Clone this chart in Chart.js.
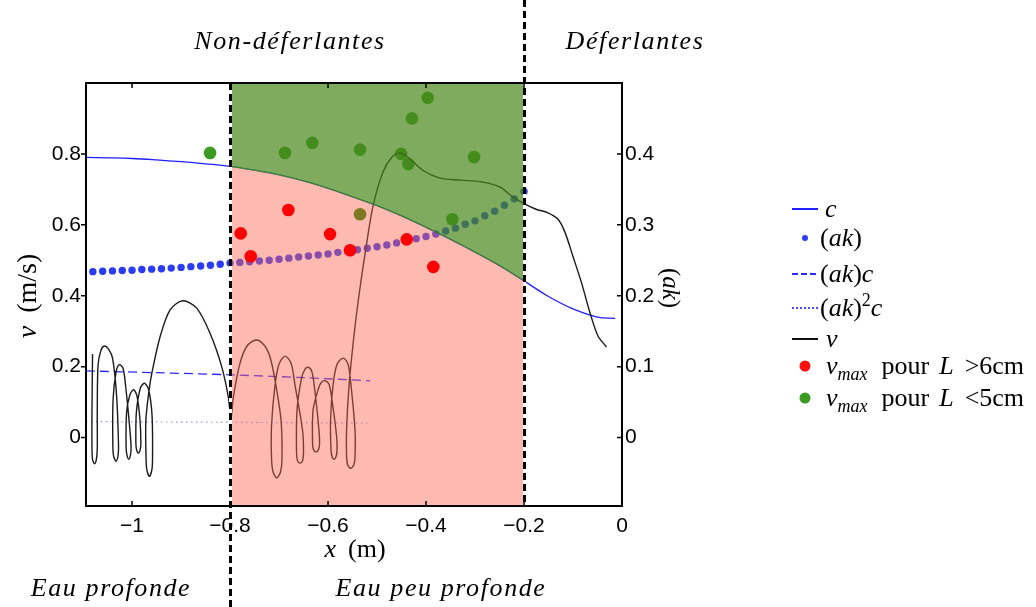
<!DOCTYPE html>
<html>
<head>
<meta charset="utf-8">
<script src="https://cdn.jsdelivr.net/npm/chart.js@4.4.1/dist/chart.umd.min.js"></script>
<style>
  body { margin: 0; background: #fff; }
  #wrap { width: 1036px; height: 607px; }
</style>
</head>
<body>
<div id="wrap"><canvas id="waveChart" width="1036" height="607"></canvas></div>
<script>
// axis ticks
const xTicks = [-1, -0.8, -0.6, -0.4, -0.2, 0];
const vTicks = [0, 0.2, 0.4, 0.6, 0.8];
const akTicks = [0, 0.1, 0.2, 0.3, 0.4];

// zone limits (non-breaking / breaking, deep / shallow water)
const zoneX = [-0.8, -0.2];

// phase speed c (m/s)
const cX = [-1.094, -1.05, -1.0, -0.95, -0.9, -0.85, -0.8, -0.75, -0.7, -0.65, -0.6, -0.55, -0.5, -0.45, -0.4, -0.35, -0.3, -0.25, -0.2, -0.15, -0.1, -0.05, -0.014];
const cV = [0.790, 0.789, 0.787, 0.783, 0.778, 0.772, 0.765, 0.754, 0.741, 0.724, 0.703, 0.679, 0.654, 0.625, 0.593, 0.559, 0.523, 0.485, 0.442, 0.398, 0.363, 0.340, 0.336];

// steepness (ak), right axis
const akX = [-1.08, -1.06, -1.04, -1.02, -1.00, -0.98, -0.96, -0.94, -0.92, -0.90, -0.88, -0.86, -0.84, -0.82, -0.80, -0.78, -0.76, -0.74, -0.72, -0.70, -0.68, -0.66, -0.64, -0.62, -0.60, -0.58, -0.56, -0.54, -0.52, -0.50, -0.48, -0.46, -0.44, -0.42, -0.40, -0.38, -0.36, -0.34, -0.32, -0.30, -0.28, -0.26, -0.24, -0.22, -0.20];
const akV = [0.234, 0.2345, 0.235, 0.2355, 0.236, 0.237, 0.2375, 0.238, 0.239, 0.240, 0.241, 0.242, 0.243, 0.2445, 0.246, 0.247, 0.248, 0.249, 0.250, 0.2515, 0.253, 0.2547, 0.256, 0.2575, 0.259, 0.2612, 0.263, 0.265, 0.267, 0.269, 0.2715, 0.2745, 0.277, 0.2805, 0.2835, 0.287, 0.2913, 0.2953, 0.3008, 0.3056, 0.3127, 0.3193, 0.3277, 0.3366, 0.347];

// (ak)c and (ak)^2 c
const akcX = [-1.094, -0.95, -0.8, -0.65, -0.514];
const akcV = [0.188, 0.183, 0.177, 0.169, 0.160];
const ak2cX = [-1.094, -0.514];
const ak2cV = [0.045, 0.041];

// particle velocity v (trajectory with loops)
const vX = [-1.0806, -1.0818,
  -1.0818, -1.0806, -1.0765, -1.0729, -1.0710,
  -1.0710, -1.0694, -1.0633, -1.0565, -1.0480, -1.0398, -1.0316,
  -1.0276, -1.0286, -1.0327, -1.0378, -1.0392,
  -1.0388, -1.0327, -1.0259, -1.0184, -1.0133, -1.0061,
  -1.0020, -1.0031, -1.0067, -1.0106, -1.0122,
  -1.0112, -1.0041, -0.9965, -0.9898, -0.9837,
  -0.9820, -0.9837, -0.9871, -0.9906, -0.9922,
  -0.9912, -0.9831, -0.9749, -0.9663, -0.9592,
  -0.9582, -0.9596, -0.9647, -0.9698, -0.9714,
  -0.9718, -0.9653, -0.9592, -0.9429, -0.9224, -0.8965, -0.8680, -0.8408, -0.8169, -0.8035,
  -0.7980, -0.7933, -0.7796, -0.7653, -0.7469, -0.7306, -0.7184, -0.7082, -0.6959,
  -0.6939, -0.6969, -0.7047, -0.7122, -0.7153,
  -0.7153, -0.7082, -0.7000, -0.6878, -0.6755, -0.6673, -0.6520,
  -0.6500, -0.6520, -0.6571, -0.6622, -0.6643,
  -0.6633, -0.6541, -0.6469, -0.6402, -0.6327, -0.6265, -0.6184,
  -0.6173, -0.6194, -0.6245, -0.6296, -0.6316,
  -0.6306, -0.6194, -0.6133, -0.6061, -0.5980, -0.5918, -0.5827,
  -0.5816, -0.5837, -0.5878, -0.5918, -0.5939,
  -0.5949, -0.5898, -0.5816, -0.5688, -0.5592, -0.5531, -0.5449,
  -0.5449, -0.5473, -0.5537, -0.5600, -0.5622,
  -0.5622, -0.5571, -0.5469, -0.5367, -0.5224, -0.5082, -0.4878, -0.4694, -0.4531, -0.4327,
  -0.4061, -0.3714, -0.3306, -0.2837, -0.2490, -0.2224, -0.1980, -0.1755, -0.1510, -0.1306,
  -0.1163, -0.1000, -0.0827, -0.0653, -0.0490, -0.0316];
const vV = [0.2355, 0.0766,
  -0.0312, -0.0624, -0.0738, -0.0624, -0.0312,
  0.0766, 0.2043, 0.2468, 0.2582, 0.2496, 0.2241, 0.1191,
  -0.0227, -0.0511, -0.0667, -0.0511, -0.0227,
  0.1050, 0.1844, 0.2057, 0.1957, 0.1475, 0.0482,
  -0.0255, -0.0482, -0.0610, -0.0482, -0.0255,
  0.0709, 0.1220, 0.1348, 0.1163, 0.0482,
  -0.0170, -0.0355, -0.0440, -0.0355, -0.0170,
  0.0709, 0.1390, 0.1532, 0.1362, 0.0624,
  -0.0596, -0.0908, -0.1092, -0.0908, -0.0596,
  0.0482, 0.1333, 0.1844, 0.2837, 0.3603, 0.3858, 0.3651, 0.2942, 0.1994, 0.1143,
  0.0539, 0.1143, 0.2099, 0.2582, 0.2752, 0.2610, 0.2270, 0.1617, 0.0482,
  -0.0596, -0.0965, -0.1135, -0.0965, -0.0596,
  0.0340, 0.1475, 0.2071, 0.2298, 0.2099, 0.1475, 0.0199,
  -0.0426, -0.0652, -0.0723, -0.0652, -0.0426,
  0.0766, 0.1674, 0.1929, 0.1986, 0.1844, 0.1277, 0.0199,
  -0.0170, -0.0340, -0.0411, -0.0340, -0.0170,
  0.0766, 0.1390, 0.1560, 0.1603, 0.1504, 0.1050, 0.0057,
  -0.0340, -0.0539, -0.0610, -0.0539, -0.0340,
  0.0482, 0.1475, 0.2071, 0.2241, 0.2071, 0.1475, 0.0199,
  -0.0539, -0.0766, -0.0865, -0.0766, -0.0539,
  0.0199, 0.1475, 0.2894, 0.4028, 0.5362, 0.6525, 0.7489, 0.7915, 0.8028, 0.7858,
  0.7532, 0.7319, 0.7262, 0.7206, 0.7064, 0.6780, 0.6582, 0.6440, 0.6340, 0.6156,
  0.5787, 0.5106, 0.4369, 0.3518, 0.2865, 0.2553];

// v_max measurements
const redX = [-0.7782, -0.7578, -0.6810, -0.5959, -0.5551, -0.5347, -0.4394, -0.3851];
const redV = [0.5759, 0.5115, 0.6420, 0.5739, 0.5285, 0.6298, 0.5589, 0.4814];
const greenX = [-0.8408, -0.6878, -0.6320, -0.5347, -0.4510, -0.4361, -0.4286, -0.3965, -0.3020, -0.3463];
const greenV = [0.8028, 0.8028, 0.8312, 0.8122, 0.8000, 0.7716, 0.9001, 0.9580, 0.7915, 0.6156];

const pts = (xs, ys) => xs.map((x, i) => ({ x: x, y: ys[i] }));
const inZone = cX.map((x, i) => ({ x: x, y: cV[i] })).filter(p => p.x >= zoneX[0] - 1e-9 && p.x <= zoneX[1] + 1e-9);

const SERIF = '"Liberation Serif", "Times New Roman", serif';
const SANS = '"Liberation Sans", Arial, sans-serif';

function fontOf(p, size) {
  const s = (p.sub || p.sup) ? Math.round(size * 0.7) : size;
  return (p.it ? 'italic ' : '') + s + 'px ' + SERIF;
}
function richWidth(ctx, parts, size) {
  let w = 0;
  parts.forEach(p => {
    if (p.gap) { w += p.gap; return; }
    ctx.font = fontOf(p, size);
    w += ctx.measureText(p.t).width;
  });
  return w;
}
function drawRich(ctx, x, y, parts, size) {
  parts.forEach(p => {
    if (p.gap) { x += p.gap; return; }
    ctx.font = fontOf(p, size);
    const dy = p.sub ? size * 0.22 : (p.sup ? -size * 0.38 : 0);
    ctx.fillText(p.t, x, y + dy);
    x += ctx.measureText(p.t).width;
  });
}

const akParts = [{ t: '(' }, { t: 'ak', it: true }, { t: ')' }];
const vmaxParts = (sign) => [{ t: 'v', it: true }, { t: 'max', it: true, sub: true }, { gap: 14 }, { t: 'pour' }, { gap: 10 },
  { t: 'L', it: true }, { gap: 11 }, { t: sign }];

const legendItems = [
  { y: 209, mark: 'line', color: '#1f1fff', dash: [], tx: 825, parts: [{ t: 'c', it: true }] },
  { y: 238, mark: 'dot', color: '#2b3cf5', r: 3, tx: 820, parts: akParts },
  { y: 274, mark: 'line', color: '#2a2aff', dash: [6, 3], tx: 820, parts: akParts.concat([{ t: 'c', it: true }]) },
  { y: 308, mark: 'line', color: '#4a4aff', dash: [2, 2], tx: 820, parts: akParts.concat([{ t: '2', sup: true }, { t: 'c', it: true }]) },
  { y: 339, mark: 'line', color: '#111', dash: [], tx: 826, parts: [{ t: 'v', it: true }] },
  { y: 366, mark: 'dot', color: '#ff1010', r: 5.5, tx: 826, parts: vmaxParts('>6cm') },
  { y: 398, mark: 'dot', color: '#3a9a22', r: 5.5, tx: 826, parts: vmaxParts('<5cm') }
];

const overlay = {
  id: 'overlay',
  afterDatasetsDraw(chart) {
    const { ctx, chartArea: a, scales } = chart;
    const x = scales.x, y = scales.y, y2 = scales.y2;
    ctx.save();
    // zone separators
    const seps = [[zoneX[0], a.top, 607], [zoneX[1], 0, a.bottom]];
    seps.forEach(([v, y0, y1]) => {
      const px = Math.round(x.getPixelForValue(v)) + 0.5;
      ctx.lineWidth = 3;
      ctx.setLineDash([]);
      ctx.strokeStyle = '#fff';
      ctx.beginPath(); ctx.moveTo(px, y0); ctx.lineTo(px, y1); ctx.stroke();
      ctx.setLineDash([7, 4]);
      ctx.strokeStyle = '#000';
      ctx.beginPath(); ctx.moveTo(px, y0); ctx.lineTo(px, y1); ctx.stroke();
    });
    ctx.setLineDash([]);
    // axes box
    ctx.strokeStyle = '#000';
    ctx.lineWidth = 2;
    ctx.strokeRect(a.left, a.top, a.right - a.left, a.bottom - a.top);
    // tick marks
    ctx.lineWidth = 1.5;
    ctx.beginPath();
    vTicks.forEach(v => {
      const py = y.getPixelForValue(v);
      ctx.moveTo(a.left - 5, py); ctx.lineTo(a.left, py);
    });
    akTicks.forEach(v => {
      const py = y2.getPixelForValue(v);
      ctx.moveTo(a.right - 5, py); ctx.lineTo(a.right, py);
    });
    xTicks.forEach(v => {
      const px = x.getPixelForValue(v);
      ctx.moveTo(px, a.bottom); ctx.lineTo(px, a.bottom - 5);
      ctx.moveTo(px, a.top); ctx.lineTo(px, a.top + 5);
    });
    ctx.stroke();
    ctx.restore();
  },
  afterDraw(chart) {
    const { ctx } = chart;
    ctx.save();
    ctx.fillStyle = '#000';
    ctx.textBaseline = 'alphabetic';

    // region labels
    ctx.textAlign = 'center';
    ctx.font = 'italic 26px ' + SERIF;
    ctx.letterSpacing = '1.6px';
    ctx.fillText('Non-déferlantes', 290, 49);
    ctx.fillText('Déferlantes', 635, 49);
    ctx.fillText('Eau profonde', 111, 596);
    ctx.fillText('Eau peu profonde', 441, 596);
    ctx.letterSpacing = '0px';
    ctx.textAlign = 'left';

    // x title
    const xParts = [{ t: 'x', it: true }, { gap: 12 }, { t: '(m)' }];
    drawRich(ctx, 355 - richWidth(ctx, xParts, 26) / 2, 557, xParts, 26);

    // left title
    const vParts = [{ t: 'v', it: true }, { gap: 13 }, { t: '(m/s)' }];
    ctx.save();
    ctx.translate(36, 296);
    ctx.rotate(-Math.PI / 2);
    drawRich(ctx, -richWidth(ctx, vParts, 28) / 2, 0, vParts, 28);
    ctx.restore();

    // right title
    ctx.save();
    ctx.translate(663, 288);
    ctx.rotate(Math.PI / 2);
    drawRich(ctx, -richWidth(ctx, akParts, 25) / 2, 0, akParts, 25);
    ctx.restore();

    // legend
    legendItems.forEach(it => {
      ctx.strokeStyle = it.color;
      ctx.fillStyle = it.color;
      if (it.mark === 'line') {
        ctx.lineWidth = 2;
        ctx.setLineDash(it.dash);
        ctx.beginPath(); ctx.moveTo(792, it.y); ctx.lineTo(818, it.y); ctx.stroke();
        ctx.setLineDash([]);
      } else {
        ctx.beginPath(); ctx.arc(805, it.y, it.r, 0, Math.PI * 2); ctx.fill();
      }
      ctx.fillStyle = '#000';
      drawRich(ctx, it.tx, it.y + 8, it.parts, 26);
    });
    ctx.restore();
  }
};

const fmtTick = v => (v === 0 ? '0' : (v < 0 ? '\u2212' : '') + String(Math.abs(v)));
const noGrid = { display: false, drawTicks: false, tickLength: 0 };
// one red marker shows through the overlapping green marker as olive
const redColors = redX.map((x, i) => (i === 5 ? '#7f7a22' : '#ff0000'));

const ctx = document.getElementById('waveChart').getContext('2d');
new Chart(ctx, {
  type: 'scatter',
  data: {
    datasets: [
      {
        label: 'vmax L > 6cm',
        data: pts(redX, redV),
        backgroundColor: redColors,
        pointRadius: 6.3,
        borderWidth: 0,
        yAxisID: 'y',
        order: 2
      },
      {
        label: 'vmax L < 5cm',
        data: pts(greenX, greenV),
        backgroundColor: '#3a9a22',
        pointRadius: 6.3,
        borderWidth: 0,
        yAxisID: 'y',
        order: 10
      },
      {
        type: 'line',
        label: 'c',
        data: pts(cX, cV),
        borderColor: '#1f1fff',
        borderWidth: 1.3,
        pointRadius: 0,
        tension: 0.4,
        yAxisID: 'y',
        order: 5
      },
      {
        label: '(ak)',
        data: pts(akX, akV),
        backgroundColor: '#2b3cf5',
        pointRadius: 3.7,
        borderWidth: 0,
        yAxisID: 'y2',
        order: 5
      },
      {
        type: 'line',
        label: '(ak)c',
        data: pts(akcX, akcV),
        borderColor: '#2a2aff',
        borderWidth: 1.3,
        borderDash: [9, 5],
        pointRadius: 0,
        tension: 0.3,
        yAxisID: 'y',
        order: 5
      },
      {
        type: 'line',
        label: '(ak)^2c',
        data: pts(ak2cX, ak2cV),
        borderColor: 'rgba(80,80,255,0.6)',
        borderWidth: 1.2,
        borderDash: [1.5, 3.5],
        pointRadius: 0,
        yAxisID: 'y',
        order: 5
      },
      {
        type: 'line',
        label: 'v',
        data: pts(vX, vV),
        borderColor: '#1a1a1a',
        borderWidth: 1.4,
        pointRadius: 0,
        tension: 0.3,
        yAxisID: 'y',
        order: 4
      },
      {
        type: 'line',
        label: 'breaking zone',
        data: inZone,
        borderColor: '#2f8f1f',
        borderWidth: 1,
        backgroundColor: 'rgba(73,135,25,0.7)',
        fill: 'end',
        pointRadius: 0,
        tension: 0.4,
        yAxisID: 'y',
        order: 1
      },
      {
        type: 'line',
        label: 'non-breaking zone',
        data: inZone,
        borderWidth: 0,
        borderColor: 'rgba(0,0,0,0)',
        backgroundColor: 'rgba(252,100,80,0.45)',
        fill: 'start',
        pointRadius: 0,
        tension: 0.4,
        yAxisID: 'y',
        order: 3
      }
    ]
  },
  options: {
    responsive: false,
    animation: false,
    events: [],
    layout: { padding: { top: 83, right: 344, left: 0, bottom: 0 } },
    scales: {
      x: {
        type: 'linear',
        min: -1.094,
        max: 0,
        afterBuildTicks: s => { s.ticks = xTicks.map(v => ({ value: v })); },
        afterFit: s => { s.height = 101; },
        grid: noGrid,
        border: { display: false },
        ticks: {
          autoSkip: false,
          maxRotation: 0,
          padding: 8,
          color: '#000',
          font: { family: SANS, size: 21 },
          callback: v => fmtTick(v)
        }
      },
      y: {
        position: 'left',
        min: -0.193,
        max: 1.0,
        afterBuildTicks: s => { s.ticks = vTicks.map(v => ({ value: v })); },
        afterFit: s => { s.width = 86; },
        grid: noGrid,
        border: { display: false },
        ticks: {
          padding: 5,
          color: '#000',
          font: { family: SANS, size: 21 },
          callback: v => fmtTick(v)
        }
      },
      y2: {
        position: 'right',
        min: -0.0965,
        max: 0.5,
        afterBuildTicks: s => { s.ticks = akTicks.map(v => ({ value: v })); },
        afterFit: s => { s.width = 70; },
        grid: noGrid,
        border: { display: false },
        ticks: {
          padding: 3,
          color: '#000',
          font: { family: SANS, size: 21 },
          callback: v => fmtTick(v)
        }
      }
    },
    plugins: {
      legend: { display: false },
      tooltip: { enabled: false }
    }
  },
  plugins: [overlay]
});
</script>
</body>
</html>
